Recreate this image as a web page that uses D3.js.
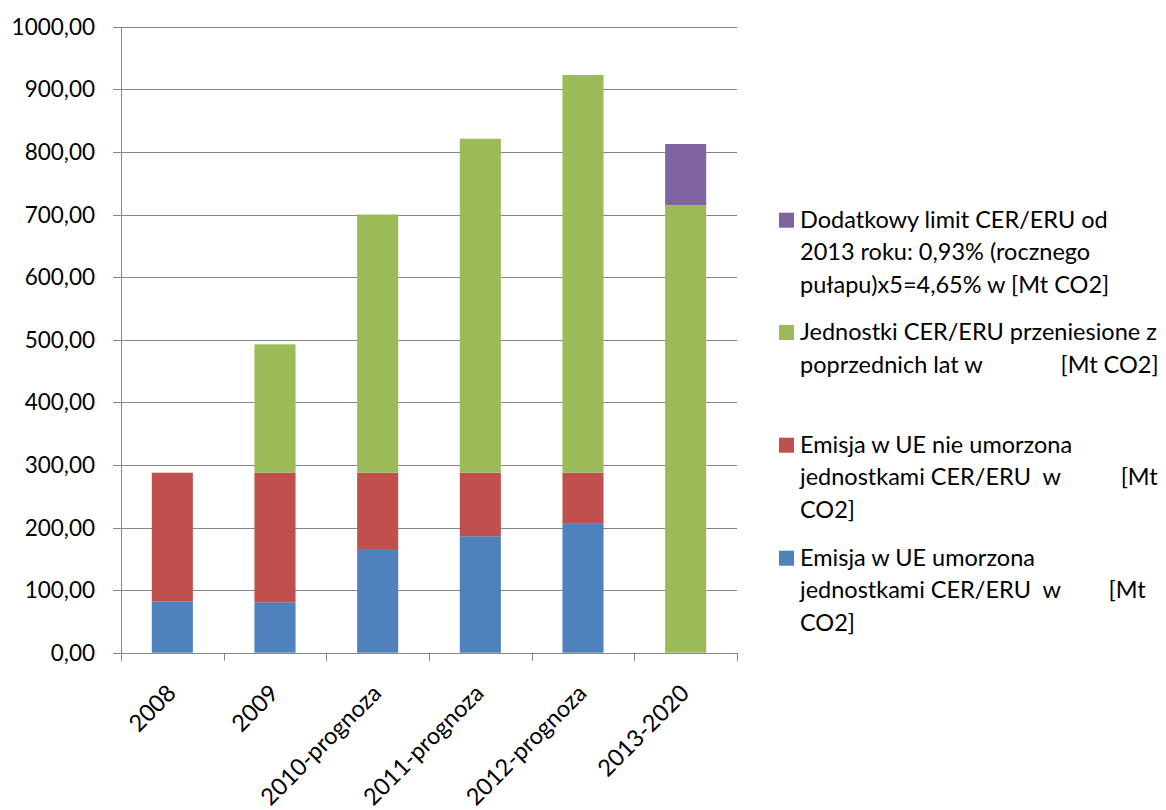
<!DOCTYPE html>
<html><head><meta charset="utf-8">
<script src="https://cdn.jsdelivr.net/npm/d3@7"></script>
<style>
html,body{margin:0;padding:0;background:#fff;}
svg text{font-family:Lato,"Open Sans",sans-serif;fill:#000;}
</style></head>
<body><svg id="c" width="1166" height="810"></svg>
<script>
const categories = ["2008","2009","2010-prognoza","2011-prognoza","2012-prognoza","2013-2020"];
const blueValues   = [82.0, 80.5, 165.6, 186.0, 207.0, 0];
const redValues    = [205.5, 207.0, 121.9, 101.5, 80.5, 0];
const greenValues  = [0, 205.1, 412.5, 533.5, 635.3, 714.7];
const purpleValues = [0, 0, 0, 0, 0, 97.9];
const yTicks = [0,100,200,300,400,500,600,700,800,900,1000];
const seriesNames = ["blue","red","green","purple"];
const seriesColors = ["#4F81BD","#C0504D","#9BBB59","#8064A2"];
const legendLines = [
  {color:"#8064A2", lines:["Dodatkowy limit CER/ERU od","2013 roku: 0,93% (rocznego","pułapu)x5=4,65% w [Mt CO2]"]},
  {color:"#9BBB59", lines:["Jednostki CER/ERU przeniesione z","poprzednich lat w             [Mt CO2]"]},
  {color:"#C0504D", lines:["Emisja w UE nie umorzona","jednostkami CER/ERU  w          [Mt","CO2]"]},
  {color:"#4F81BD", lines:["Emisja w UE umorzona","jednostkami CER/ERU  w        [Mt","CO2]"]}
];

(function(){
const svg = d3.select("#c");
const pL = 121, pR = 737, pT = 26.7, pB = 652.7;
const x = d3.scaleBand().domain(categories).range([pL,pR]).paddingInner(0.6).paddingOuter(0.3);
const y = d3.scaleLinear().domain([0,1000]).range([pB, pT]);

svg.append("g").selectAll("line").data(yTicks).join("line")
  .attr("x1", pL-8).attr("x2", pR)
  .attr("y1", d=>Math.round(y(d))+0.5).attr("y2", d=>Math.round(y(d))+0.5)
  .attr("stroke","#868686").attr("stroke-width",1);

const fmt = d => d3.format(".2f")(d).replace(".",",");
svg.append("g").selectAll("text").data(yTicks).join("text")
  .attr("x", 95).attr("y", d=>y(d)).attr("dy","0.36em")
  .attr("text-anchor","end").style("font-size","22.5px").text(fmt);

const table = categories.map((c,i)=>({cat:c, blue:blueValues[i], red:redValues[i], green:greenValues[i], purple:purpleValues[i]}));
const stack = d3.stack().keys(seriesNames)(table);
svg.append("g").selectAll("g").data(stack).join("g")
  .attr("fill",(d,i)=>seriesColors[i])
  .selectAll("rect").data(d=>d).join("rect")
  .attr("x", d=>x(d.data.cat)).attr("width", x.bandwidth())
  .attr("y", d=>y(d[1])).attr("height", d=>Math.max(0,y(d[0])-y(d[1])));

svg.append("line").attr("x1",pL+0.5).attr("x2",pL+0.5).attr("y1",pT).attr("y2",pB+8)
  .attr("stroke","#868686");
svg.append("line").attr("x1",pL-8).attr("x2",pR).attr("y1",Math.round(pB)+0.5).attr("y2",Math.round(pB)+0.5)
  .attr("stroke","#868686");
const step = x.step();
const bounds = d3.range(categories.length+1).map(i=>pL+i*step);
svg.append("g").selectAll("line").data(bounds).join("line")
  .attr("x1",d=>Math.round(d)+0.5).attr("x2",d=>Math.round(d)+0.5)
  .attr("y1",pB).attr("y2",pB+8).attr("stroke","#868686");

svg.append("g").selectAll("text").data(categories).join("text")
  .attr("transform", d=>`translate(${x(d)+x.bandwidth()/2+5},${pB+42}) rotate(-45)`)
  .attr("text-anchor","end").style("font-size","23.5px").text(d=>d);

const legendTops = [212.7, 325, 437.7, 550.7];
const lg = svg.append("g").selectAll("g").data(legendLines).join("g")
  .attr("transform",(d,i)=>`translate(779,${legendTops[i]})`);
lg.append("rect").attr("width",15).attr("height",15).attr("fill",d=>d.color);
lg.selectAll("text").data(d=>d.lines).join("text")
  .attr("x",21).attr("y",(d,i)=>15+i*32.5)
  .style("font-size","23.5px").style("white-space","pre").text(d=>d);
})();
</script></body></html>
